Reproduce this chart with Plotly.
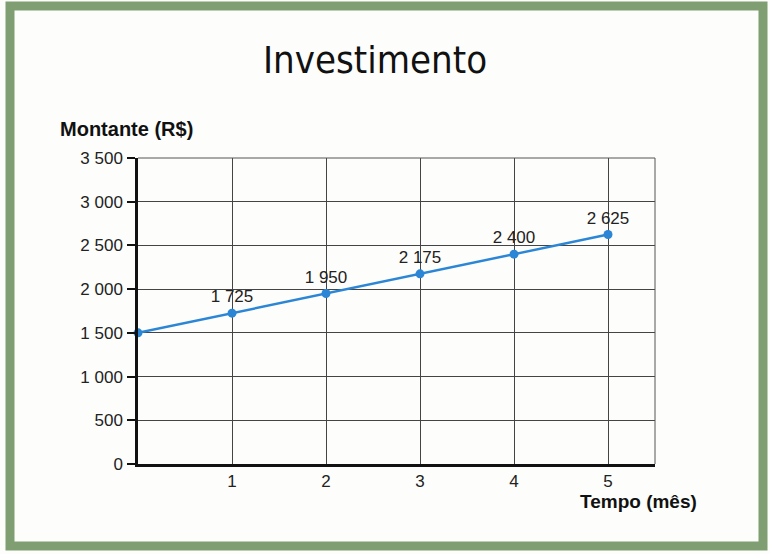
import plotly.graph_objects as go

# dados
meses = [0, 1, 2, 3, 4, 5]
montante = [1500, 1725, 1950, 2175, 2400, 2625]
rotulos = ["", "1 725", "1 950", "2 175", "2 400", "2 625"]
y_ticks = [0, 500, 1000, 1500, 2000, 2500, 3000, 3500]
y_labels = ["0", "500", "1 000", "1 500", "2 000", "2 500", "3 000", "3 500"]
x_ticks = [1, 2, 3, 4, 5]

azul = "#2b86d6"
fundo = "#fdfdfb"

W, H = 770, 554
ML, MR, MT, MB = 138, 115, 158, 90
pw, ph = W - ML - MR, H - MT - MB

# converte pixels da imagem para fração do papel (área do gráfico)
def px_x(p):
    return (p - ML) / pw

def px_y(p):
    return (H - MB - p) / ph

fig = go.Figure()
fig.add_trace(go.Scatter(
    x=meses, y=montante,
    mode="lines+markers+text",
    text=rotulos, textposition="top center",
    textfont=dict(family="Liberation Sans", size=17, color="#222"),
    line=dict(color=azul, width=2.5),
    marker=dict(color=azul, size=9),
    cliponaxis=False,
    showlegend=False,
))

fig.update_layout(
    width=W, height=H,
    margin=dict(l=ML, r=MR, t=MT, b=MB),
    paper_bgcolor=fundo,
    plot_bgcolor=fundo,
    font=dict(family="Liberation Sans", size=17, color="#222"),
    xaxis=dict(range=[0, 5.5], tickvals=x_ticks, showgrid=True, gridcolor="#444", gridwidth=1,
               zeroline=False, showline=True, linecolor="#111", linewidth=2.5,
               ticks="", ticklabelstandoff=0, fixedrange=True),
    yaxis=dict(range=[0, 3500], tickvals=y_ticks, ticktext=y_labels, showgrid=True,
               gridcolor="#444", gridwidth=1, zeroline=False, showline=True, linecolor="#111",
               linewidth=2.5, ticks="outside", ticklen=8, tickwidth=2, tickcolor="#111",
               ticklabelstandoff=1, fixedrange=True),
    shapes=[
        # bordas do gráfico (direita/topo)
        dict(type="line", xref="paper", yref="paper", x0=1, x1=1, y0=0, y1=1,
             line=dict(color="#555", width=1)),
        dict(type="line", xref="paper", yref="paper", x0=0, x1=1, y0=1, y1=1,
             line=dict(color="#555", width=1)),
        # moldura verde
        dict(type="rect", xref="paper", yref="paper",
             x0=px_x(10), x1=px_x(763), y0=px_y(546), y1=px_y(6),
             line=dict(color="#7f9e72", width=9), layer="below"),
    ],
    annotations=[
        dict(text="Investimento", xref="paper", yref="paper", x=px_x(375), y=px_y(60),
             xanchor="center", yanchor="middle", showarrow=False,
             font=dict(family="DejaVu Sans Condensed", size=38, color="#111")),
        dict(text="<b>Montante (R$)</b>", xref="paper", yref="paper", x=px_x(58), y=px_y(142),
             xanchor="left", yanchor="bottom", showarrow=False,
             font=dict(family="Liberation Sans", size=20, color="#111")),
        dict(text="<b>Tempo (mês)</b>", xref="paper", yref="paper", x=px_x(699), y=px_y(489),
             xanchor="right", yanchor="top", showarrow=False,
             font=dict(family="Liberation Sans", size=19, color="#111")),
    ],
)

fig.write_html("out.html", config={"displayModeBar": False},
               post_script="document.body.style.margin='0';")
